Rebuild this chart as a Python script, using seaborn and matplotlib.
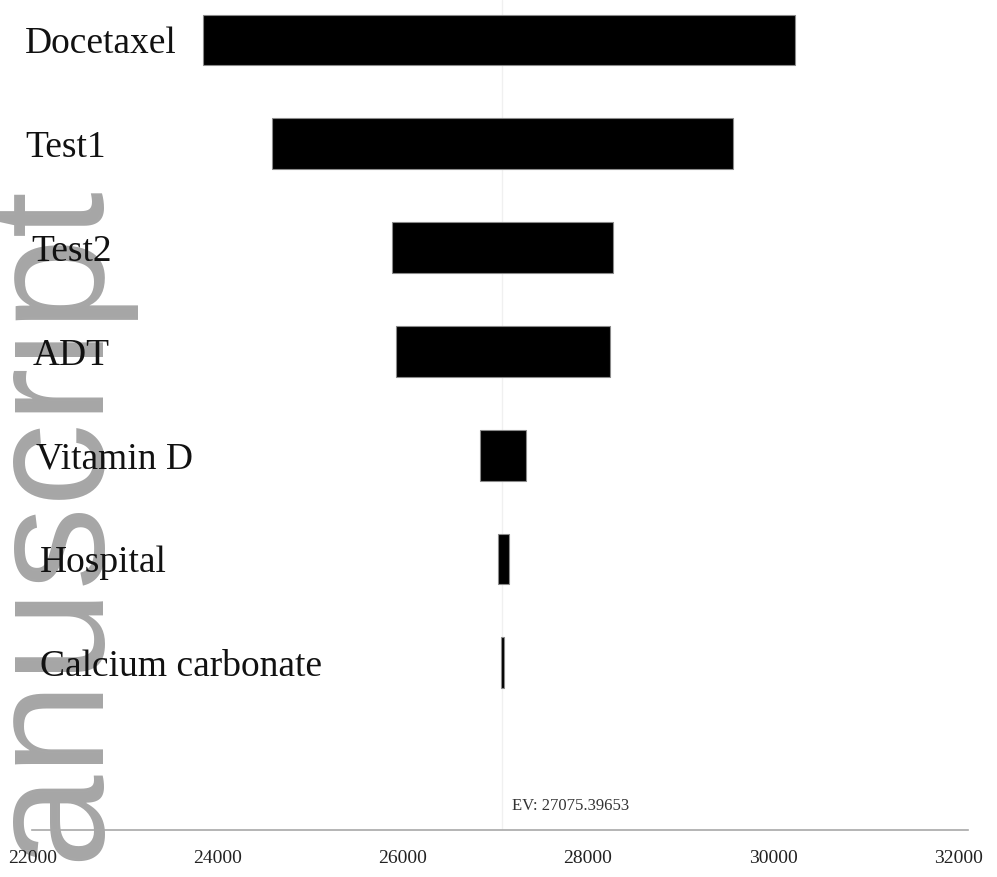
import matplotlib
matplotlib.use("Agg")
import matplotlib.pyplot as plt
import matplotlib.transforms as mtransforms
import pandas as pd
import seaborn as sns

# One-way sensitivity analysis: range of the expected value per parameter
params = ["Docetaxel", "Test1", "Test2", "ADT", "Vitamin D", "Hospital", "Calcium carbonate"]
low_values = [23840, 24580, 25880, 25920, 26830, 27030, 27058]
high_values = [30240, 29570, 28270, 28240, 27330, 27145, 27092]
expected_value = 27075.39653
x_ticks = [22000, 24000, 26000, 28000, 30000, 32000]

df = pd.DataFrame({"param": params, "low": low_values, "high": high_values})
df["span"] = df["high"] - df["low"]

W, H, DPI = 997, 877, 100
sns.set_style("white")
plt.rcParams["font.family"] = ["Liberation Serif", "DejaVu Serif"]

fig = plt.figure(figsize=(W / DPI, H / DPI), dpi=DPI, facecolor="white")
ax = fig.add_axes([32 / W, (H - 830) / H, (968 - 32) / W, 830 / H])
ax.patch.set_alpha(0)

ax.axvline(expected_value, color="#f0f0f0", lw=1.0, zorder=0)

sns.barplot(data=df, x="span", y="param", left=df["low"], color="black",
            width=0.49, edgecolor="#8a8a8a", linewidth=0.8, saturation=1,
            ax=ax, zorder=2)

ax.set_xlim(21989, 32108)
ax.set_ylim(7.61, -0.385)
ax.set_xticks(x_ticks)
ax.set_xticklabels([str(t) for t in x_ticks], fontsize=14)
ax.set_yticks([])
ax.set_xlabel("")
ax.set_ylabel("")
for side in ("left", "top", "right"):
    ax.spines[side].set_visible(False)
ax.spines["bottom"].set_color("#a8a8a8")
ax.spines["bottom"].set_linewidth(1.2)
ax.tick_params(axis="x", direction="inout", length=13, width=0.8,
               color="#c8c8c8", pad=8, labelcolor="#222222")

# Parameter names, left aligned near the figure edge
indent_px = [25, 25, 31, 33, 36, 40, 40]
label_tf = mtransforms.blended_transform_factory(fig.transFigure, ax.transData)
for i, (name, ind) in enumerate(zip(params, indent_px)):
    ax.text(ind / W, i, name, transform=label_tf, ha="left", va="center_baseline",
            fontsize=27, color="#111111", zorder=5)

# Expected value label next to the reference line
ev_tf = mtransforms.blended_transform_factory(ax.transData, ax.transAxes)
ax.annotate(f"EV: {expected_value:.5f}", xy=(expected_value, 0.029), xycoords=ev_tf,
            xytext=(7, 0), textcoords="offset points", ha="left", va="center",
            fontsize=12, color="#333333")

# Vertical margin watermark, drawn underneath the chart
fig.text(90 / W, 1 - 177 / H, "Manuscript", rotation=90, rotation_mode="anchor",
         ha="right", va="baseline", fontsize=120, color="#a6a6a6",
         family=["Liberation Sans", "DejaVu Sans"], zorder=-1)

fig.savefig("out.png", dpi=DPI, facecolor="white")
